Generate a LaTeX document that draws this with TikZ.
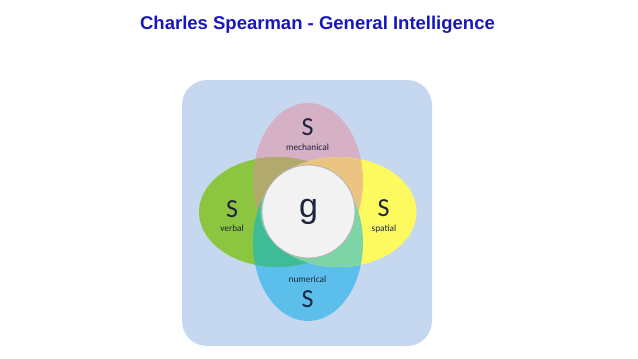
\documentclass[tikz,border=0pt]{standalone}
\usepackage{fontspec}
\setmainfont{Carlito}
\newfontfamily\titlefont{Liberation Sans}
\definecolor{bgblue}{RGB}{198,216,240}
\definecolor{mechpink}{RGB}{214,176,196}
\definecolor{verbgreen}{RGB}{140,198,64}
\definecolor{spatyellow}{RGB}{252,250,95}
\definecolor{numblue}{RGB}{92,190,235}
\definecolor{mixolive}{RGB}{178,170,108}
\definecolor{mixorange}{RGB}{234,196,128}
\definecolor{mixteal}{RGB}{62,188,152}
\definecolor{mixmint}{RGB}{125,212,165}
\definecolor{gwhite}{RGB}{242,242,242}
\definecolor{inkblue}{RGB}{30,36,62}
\definecolor{titleblue}{RGB}{24,24,186}
\begin{document}
\begin{tikzpicture}[x=1pt,y=-1pt,
    bigS/.style={inner sep=0pt,text=inkblue,font=\fontsize{26}{26}\selectfont},
    factor/.style={inner sep=0pt,text=inkblue,font=\fontsize{9.3}{9.3}\selectfont},
    vert/.style={x radius=55pt,y radius=78pt},
    horiz/.style={x radius=78pt,y radius=55pt}]
\useasboundingbox (0,0) rectangle (638,359);
\node[font=\titlefont\bfseries\fontsize{18.5}{18.5}\selectfont,text=titleblue] (title) at (317.5,25) {Charles Spearman - General Intelligence};
\fill[bgblue,rounded corners=25pt] (182,80) rectangle (432,346);
% the four s factors
\coordinate (cMech) at (308,181);
\coordinate (cNum) at (308,243);
\coordinate (cVerb) at (277,212);
\coordinate (cSpat) at (338.5,212);
\fill[mechpink] (cMech) ellipse [vert];
\fill[numblue] (cNum) ellipse [vert];
\fill[verbgreen] (cVerb) ellipse [horiz];
\fill[spatyellow] (cSpat) ellipse [horiz];
% overlaps
\begin{scope}
  \clip (cMech) ellipse [vert];
  \fill[mixolive] (cVerb) ellipse [horiz];
  \fill[mixorange] (cSpat) ellipse [horiz];
\end{scope}
\begin{scope}
  \clip (cNum) ellipse [vert];
  \fill[mixteal] (cVerb) ellipse [horiz];
  \fill[mixmint] (cSpat) ellipse [horiz];
\end{scope}
% g in the middle
\node[circle,fill=gwhite,draw=black!30,line width=0.8pt,minimum size=93pt,inner sep=0pt,
  text=inkblue,font=\titlefont\fontsize{34}{34}\selectfont] (g) at (308.5,211.5) {g};
\node[bigS] (sMech) at (307.5,127) {S};
\node[factor] (lMech) at (307.5,147) {mechanical};
\node[bigS] (sVerb) at (232,209) {S};
\node[factor] (lVerb) at (232,228) {verbal};
\node[bigS] (sSpat) at (383.5,208) {S};
\node[factor,anchor=base] (lSpat) at (384,231) {spatial};
\node[factor] (lNum) at (307.5,279) {numerical};
\node[bigS] (sNum) at (307.5,299) {S};
\end{tikzpicture}
\end{document}
